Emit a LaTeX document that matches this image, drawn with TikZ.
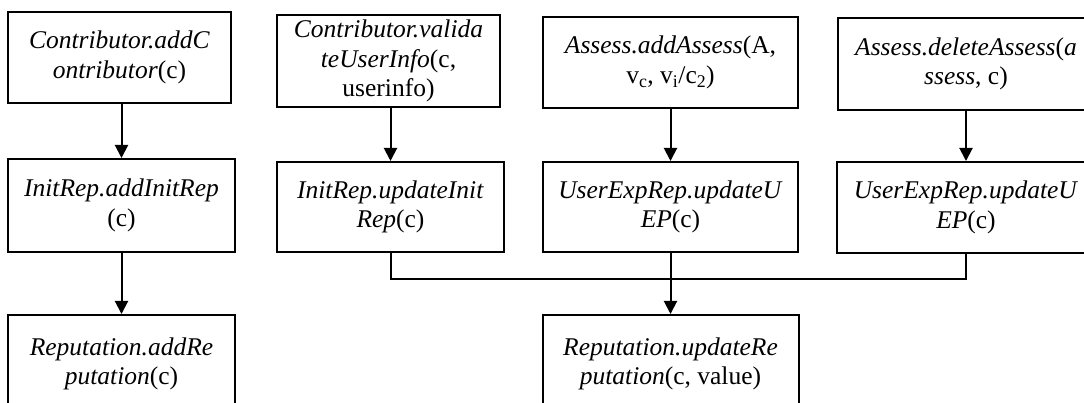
\documentclass[tikz,border=0pt]{standalone}
\usepackage{fontspec}
\setmainfont{Liberation Serif}
\usetikzlibrary{arrows.meta}
\tikzset{
  box/.style={draw, line width=2pt, inner sep=0pt, align=center,
    font=\fontsize{25.5}{29.5}\selectfont},
  arr/.style={line width=2pt, -{Triangle[width=13pt,length=13pt]}},
  conn/.style={line width=2pt}
}
\begin{document}
\begin{tikzpicture}[x=1pt,y=-1pt]
\clip (0,0) rectangle (1084,403);
\fill[white] (0,0) rectangle (1084,403);
% left column
\node[box, minimum width=223pt, minimum height=91pt] (b1) at (119.5,57.5)
  {\textit{Contributor.addC}\\\textit{ontributor}(c)};
\node[box, minimum width=227pt, minimum height=93pt] (b2) at (121.5,205.5)
  {\textit{InitRep.addInitRep}\\(c)};
\node[box, minimum width=227pt, minimum height=98pt] (b3) at (121.5,364)
  {\textit{Reputation.addRe}\\\textit{putation}(c)};
% second column
\node[box, minimum width=223pt, minimum height=92pt] (b4) at (388.5,61)
  {\textit{Contributor.valida}\\\textit{teUserInfo}(c,\\userinfo)};
\node[box, minimum width=227pt, minimum height=90pt] (b5) at (390.5,207)
  {\textit{InitRep.updateInit}\\\textit{Rep}(c)};
% third column
\node[box, minimum width=255pt, minimum height=91pt] (b6) at (670.5,62.5)
  {\textit{Assess.addAssess}(A,\\v\textsubscript{c}, v\textsubscript{i}/c\textsubscript{2})};
\node[box, minimum width=255pt, minimum height=90pt] (b7) at (670.5,207)
  {\textit{UserExpRep.updateU}\\\textit{EP}(c)};
\node[box, minimum width=256pt, minimum height=98pt] (b8) at (670.5,364)
  {\textit{Reputation.updateRe}\\\textit{putation}(c, value)};
% fourth column
\node[box, minimum width=256pt, minimum height=92pt] (b9) at (966,64)
  {\textit{Assess.deleteAssess}(\textit{a}\\\textit{ssess}, c)};
\node[box, minimum width=258pt, minimum height=91pt] (b10) at (966,207.5)
  {\textit{UserExpRep.updateU}\\\textit{EP}(c)};
% connectors
\coordinate (j) at (670.5,279);
\draw[arr] (b2.north |- b1.south) -- (b2.north);
\draw[arr] (b2.south) -- (b3.north);
\draw[arr] (b5.north |- b4.south) -- (b5.north);
\draw[arr] (b6.south) -- (b7.north);
\draw[arr] (b10.north |- b9.south) -- (b10.north);
\draw[conn] (b5.south) |- (j);
\draw[conn] (b10.south) |- (j);
\draw[arr] (b7.south) -- (b8.north);
\end{tikzpicture}
\end{document}
